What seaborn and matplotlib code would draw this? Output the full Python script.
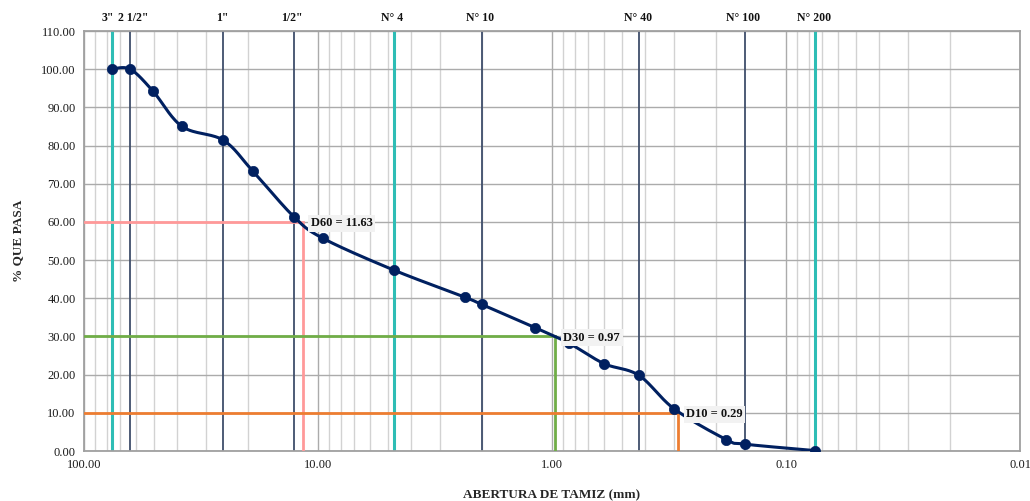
import numpy as np
import pandas as pd
import matplotlib
matplotlib.use("Agg")
import matplotlib.pyplot as plt
from matplotlib.ticker import FixedLocator, LogLocator, NullFormatter, FuncFormatter
import seaborn as sns

# Grain size distribution (sieve analysis)
abertura_mm = [76.2, 63.5, 50.8, 38.1, 25.4, 19.05, 12.7, 9.525, 4.75, 2.36, 2.0,
               1.18, 0.85, 0.6, 0.425, 0.3, 0.18, 0.15, 0.075]
pct_pasa = [100.0, 100.0, 94.3, 85.0, 81.4, 73.4, 61.4, 55.7, 47.4, 40.3, 38.4,
            32.3, 28.3, 22.9, 19.8, 11.0, 3.0, 1.8, 0.1]

# Reference sieves marked on the chart
tamiz_nombre = ['3"', '2 1/2"', '1"', '1/2"', 'N° 4', 'N° 10', 'N° 40', 'N° 100', 'N° 200']
tamiz_abertura = [76.2, 63.5, 25.4, 12.7, 4.75, 2.0, 0.425, 0.15, 0.075]
tamiz_destacado = [True, False, False, False, True, False, False, False, True]

# Characteristic diameters
d_nombre = ["D60", "D30", "D10"]
d_valor = [11.63, 0.97, 0.29]
d_pct = [60, 30, 10]
d_color = ["#FF9999", "#70AD47", "#ED7D31"]

x_ticks = [100, 10, 1, 0.1, 0.01]
y_ticks = list(range(0, 111, 10))

sns.set_theme(style="white")
plt.rcParams["font.family"] = ["Liberation Serif", "DejaVu Serif"]

fig = plt.figure(figsize=(10.30, 5.01), dpi=100)
ax = fig.add_axes([84 / 1030, 50 / 501, 936 / 1030, 420 / 501])

ax.set_xscale("log")
ax.set_xlim(100, 0.01)
ax.set_ylim(0, 110)

# grid
ax.xaxis.set_major_locator(FixedLocator(x_ticks))
ax.xaxis.set_minor_locator(LogLocator(base=10, subs=np.arange(2, 10)))
ax.xaxis.set_minor_formatter(NullFormatter())
ax.xaxis.set_major_formatter(FuncFormatter(lambda v, p: f"{v:.2f}"))
ax.yaxis.set_major_locator(FixedLocator(y_ticks))
ax.yaxis.set_major_formatter(FuncFormatter(lambda v, p: f"{v:.2f}"))
ax.grid(True, which="major", axis="both", color="#ABABAB", lw=1.0, zorder=0)
ax.grid(True, which="minor", axis="x", color="#D2D2D2", lw=1.0, zorder=0)
ax.set_axisbelow(True)
ax.tick_params(which="both", length=0, labelsize=9, colors="#1A1A1A", pad=6)
for s in ax.spines.values():
    s.set_color("#A0A0A0")
    s.set_linewidth(1.3)

# sieve lines and labels (the two largest sieves sit close, so their labels are nudged apart)
for i, (nombre, ab, dest) in enumerate(zip(tamiz_nombre, tamiz_abertura, tamiz_destacado)):
    if dest:
        ax.axvline(ab, color="#2EBDB5", lw=2.2, zorder=2)
    else:
        ax.axvline(ab, color="#3F4E6B", lw=1.3, zorder=2)
    dx = -1
    if i == 0:
        dx = -3
    elif i == 1:
        dx = 2
    ax.annotate(nombre, xy=(ab, 1.0), xycoords=("data", "axes fraction"),
                xytext=(dx, 5), textcoords="offset points", ha="center", va="bottom",
                fontsize=8.5, fontweight="bold", color="#111111")

# D lines
for nombre, val, pct, col in zip(d_nombre, d_valor, d_pct, d_color):
    ax.plot([100, val, val], [pct, pct, 0], color=col, lw=2.0, zorder=3,
            solid_joinstyle="miter")

# smoothed curve (cubic Bezier through the points, Catmull-Rom tangents in log space)
lx = np.log10(abertura_mm)
py = np.array(pct_pasa)
P = np.column_stack([lx, py])
Pp = np.vstack([P[0], P, P[-1]])
curve = []
t = np.linspace(0, 1, 30)[:, None]
for i in range(len(P) - 1):
    p0, p1, p2, p3 = Pp[i], Pp[i + 1], Pp[i + 2], Pp[i + 3]
    c1 = p1 + (p2 - p0) / 6.0
    c2 = p2 - (p3 - p1) / 6.0
    seg = ((1 - t) ** 3) * p1 + 3 * ((1 - t) ** 2) * t * c1 + 3 * (1 - t) * t ** 2 * c2 + t ** 3 * p2
    curve.append(seg if i == 0 else seg[1:])
curve = np.vstack(curve)
curve_df = pd.DataFrame({"x": 10 ** curve[:, 0], "y": curve[:, 1]})
sns.lineplot(data=curve_df, x="x", y="y", sort=False, estimator=None, ax=ax,
             color="#002060", lw=2.2, zorder=4)

pts = pd.DataFrame({"abertura": abertura_mm, "pasa": pct_pasa})
sns.scatterplot(data=pts, x="abertura", y="pasa", ax=ax, color="#002060", s=55,
                edgecolor="#002060", linewidth=0.5, zorder=5)

# D labels
for nombre, val, pct in zip(d_nombre, d_valor, d_pct):
    ax.annotate(f"{nombre} = {val:.2f}", xy=(val, pct), xytext=(6, -1),
                textcoords="offset points", ha="left", va="center",
                fontsize=9, fontweight="bold", color="#111111", zorder=6,
                bbox=dict(boxstyle="square,pad=0.2", fc="#F2F2F2", ec="none"))

ax.set_xlabel("ABERTURA DE TAMIZ (mm)", fontsize=9.5, fontweight="bold", labelpad=13)
ax.set_ylabel("% QUE PASA", fontsize=9.5, fontweight="bold", labelpad=12)

fig.savefig("out.png", dpi=100)
